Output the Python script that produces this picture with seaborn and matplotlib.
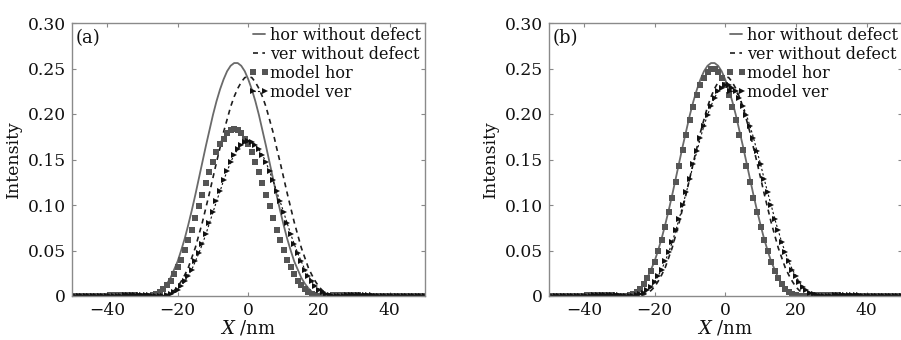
import matplotlib
matplotlib.use("Agg")
import matplotlib.pyplot as plt
import seaborn as sns

# ---------------- data ----------------
x_nm = list(range(-50, 51))

hor_without_defect = [
    0, 0, 0, 0, 0, 0, 0, 0, 0.0001, 0.0003,
    0.0005, 0.0008, 0.0011, 0.0013, 0.0014, 0.0014, 0.0013, 0.0011, 0.0008, 0.0005,
    0.0002, 0, 0.0001, 0.0007, 0.0023, 0.0046, 0.0085, 0.0136, 0.020, 0.029,
    0.038, 0.050, 0.063, 0.078, 0.094, 0.111, 0.129, 0.147, 0.165, 0.182,
    0.199, 0.214, 0.227, 0.238, 0.247, 0.253, 0.256, 0.256, 0.253, 0.247,
    0.238, 0.227, 0.214, 0.199, 0.182, 0.165, 0.147, 0.129, 0.111, 0.094,
    0.078, 0.063, 0.050, 0.038, 0.029, 0.020, 0.0136, 0.0085, 0.0046, 0.0023,
    0.0007, 0.0001, 0, 0.0002, 0.0005, 0.0008, 0.0011, 0.0013, 0.0014, 0.0014,
    0.0013, 0.0011, 0.0008, 0.0005, 0.0003, 0.0001, 0, 0, 0, 0,
    0, 0, 0, 0, 0, 0, 0, 0, 0, 0, 0,
]

ver_without_defect = [
    0, 0, 0, 0, 0, 0, 0, 0, 0, 0,
    0, 0, 0.0001, 0.0003, 0.0005, 0.0008, 0.0011, 0.0013, 0.0014, 0.0014,
    0.0013, 0.0011, 0.0008, 0.0005, 0.0002, 0, 0.0003, 0.0013, 0.0031, 0.006,
    0.010, 0.016, 0.023, 0.031, 0.042, 0.053, 0.067, 0.081, 0.097, 0.113,
    0.130, 0.147, 0.163, 0.180, 0.194, 0.208, 0.219, 0.228, 0.235, 0.240,
    0.241, 0.240, 0.235, 0.228, 0.219, 0.208, 0.194, 0.180, 0.163, 0.147,
    0.130, 0.113, 0.097, 0.081, 0.067, 0.053, 0.042, 0.031, 0.023, 0.016,
    0.010, 0.006, 0.0031, 0.0013, 0.0003, 0, 0.0002, 0.0005, 0.0008, 0.0011,
    0.0013, 0.0014, 0.0014, 0.0013, 0.0011, 0.0008, 0.0005, 0.0003, 0.0001, 0,
    0, 0, 0, 0, 0, 0, 0, 0, 0, 0, 0,
]

a_model_hor = [
    0, 0, 0, 0, 0, 0, 0, 0, 0, 0.0001,
    0.0003, 0.0006, 0.0008, 0.0010, 0.0011, 0.0011, 0.0010, 0.0008, 0.0006, 0.0003,
    0.0001, 0, 0.0002, 0.001, 0.0024, 0.0046, 0.0077, 0.012, 0.017, 0.024,
    0.032, 0.040, 0.051, 0.061, 0.073, 0.086, 0.099, 0.111, 0.124, 0.136,
    0.147, 0.158, 0.167, 0.173, 0.179, 0.182, 0.183, 0.182, 0.179, 0.173,
    0.167, 0.158, 0.147, 0.136, 0.124, 0.111, 0.099, 0.086, 0.073, 0.061,
    0.051, 0.040, 0.032, 0.024, 0.017, 0.012, 0.0077, 0.0046, 0.0024, 0.001,
    0.0002, 0, 0.0001, 0.0003, 0.0006, 0.0008, 0.0010, 0.0011, 0.0011, 0.0010,
    0.0008, 0.0006, 0.0003, 0.0001, 0, 0, 0, 0, 0, 0,
    0, 0, 0, 0, 0, 0, 0, 0, 0, 0, 0,
]

a_model_ver = [
    0, 0, 0, 0, 0, 0, 0, 0, 0, 0,
    0, 0, 0, 0.0001, 0.0003, 0.0006, 0.0008, 0.0010, 0.0011, 0.0011,
    0.0010, 0.0008, 0.0006, 0.0003, 0.0001, 0, 0.0002, 0.0009, 0.0022, 0.0043,
    0.0071, 0.011, 0.016, 0.022, 0.029, 0.038, 0.047, 0.057, 0.068, 0.080,
    0.092, 0.104, 0.115, 0.127, 0.137, 0.147, 0.155, 0.161, 0.166, 0.169,
    0.170, 0.169, 0.166, 0.161, 0.155, 0.147, 0.137, 0.127, 0.115, 0.104,
    0.092, 0.080, 0.068, 0.057, 0.047, 0.038, 0.029, 0.022, 0.016, 0.011,
    0.0071, 0.0043, 0.0022, 0.0009, 0.0002, 0, 0.0001, 0.0003, 0.0006, 0.0008,
    0.0010, 0.0011, 0.0011, 0.0010, 0.0008, 0.0006, 0.0003, 0.0001, 0, 0,
    0, 0, 0, 0, 0, 0, 0, 0, 0, 0, 0,
]

b_model_hor = [
    0, 0, 0, 0, 0, 0, 0, 0, 0.0001, 0.0003,
    0.0005, 0.0007, 0.0010, 0.0012, 0.0013, 0.0013, 0.0012, 0.0010, 0.0007, 0.0004,
    0.0002, 0, 0.0001, 0.0007, 0.0022, 0.0045, 0.0082, 0.013, 0.020, 0.028,
    0.037, 0.049, 0.062, 0.076, 0.092, 0.108, 0.125, 0.143, 0.160, 0.177,
    0.193, 0.208, 0.221, 0.232, 0.240, 0.246, 0.249, 0.249, 0.246, 0.240,
    0.232, 0.221, 0.208, 0.193, 0.177, 0.160, 0.143, 0.125, 0.108, 0.092,
    0.076, 0.062, 0.049, 0.037, 0.028, 0.020, 0.013, 0.0082, 0.0045, 0.0022,
    0.0007, 0.0001, 0, 0.0002, 0.0004, 0.0007, 0.0010, 0.0012, 0.0013, 0.0013,
    0.0012, 0.0010, 0.0007, 0.0005, 0.0003, 0.0001, 0, 0, 0, 0,
    0, 0, 0, 0, 0, 0, 0, 0, 0, 0, 0,
]

b_model_ver = [
    0, 0, 0, 0, 0, 0, 0, 0, 0, 0,
    0, 0.0001, 0.0003, 0.0006, 0.0008, 0.0010, 0.0011, 0.0011, 0.0010, 0.0008,
    0.0006, 0.0003, 0.0001, 0, 0.0001, 0.0006, 0.0017, 0.0036, 0.0063, 0.010,
    0.015, 0.022, 0.029, 0.038, 0.048, 0.059, 0.072, 0.085, 0.100, 0.114,
    0.129, 0.145, 0.159, 0.174, 0.187, 0.199, 0.209, 0.218, 0.225, 0.229,
    0.232, 0.232, 0.229, 0.225, 0.218, 0.209, 0.199, 0.187, 0.174, 0.159,
    0.145, 0.129, 0.114, 0.100, 0.085, 0.072, 0.059, 0.048, 0.038, 0.029,
    0.022, 0.015, 0.010, 0.0063, 0.0036, 0.0017, 0.0006, 0.0001, 0, 0.0001,
    0.0003, 0.0006, 0.0008, 0.0010, 0.0011, 0.0011, 0.0010, 0.0008, 0.0006, 0.0003,
    0.0001, 0, 0, 0, 0, 0, 0, 0, 0, 0, 0,
]

series_labels = ["hor without defect", "ver without defect", "model hor", "model ver"]
panel_labels = ["(a)", "(b)"]
x_ticks = [-40, -20, 0, 20, 40]
y_ticks = [0, 0.05, 0.10, 0.15, 0.20, 0.25, 0.30]
y_tick_labels = ["0", "0.05", "0.10", "0.15", "0.20", "0.25", "0.30"]
x_label = "$X$ /nm"
y_label = "Intensity"

for s in (hor_without_defect, ver_without_defect, a_model_hor, a_model_ver,
          b_model_hor, b_model_ver):
    assert len(s) == len(x_nm)

# ---------------- styling ----------------
sns.set_style("ticks")
plt.rcParams["font.family"] = ["DejaVu Serif"]
plt.rcParams["mathtext.fontset"] = "dejavuserif"
plt.rcParams["axes.unicode_minus"] = True

W, H = 901, 340
fig = plt.figure(figsize=(W / 100, H / 100), dpi=100)
ax_w = 353.4 / W
ax_h = 273 / H
ax_b0 = 44 / H
ax_a = fig.add_axes([71.6 / W, ax_b0, ax_w, ax_h])
ax_bb = fig.add_axes([548.5 / W, ax_b0, ax_w, ax_h])

panels = [
    (ax_a, a_model_hor, a_model_ver, panel_labels[0]),
    (ax_bb, b_model_hor, b_model_ver, panel_labels[1]),
]

for ax, m_hor, m_ver, plabel in panels:
    sns.lineplot(x=x_nm, y=hor_without_defect, ax=ax, color="#6a6a6a",
                 linewidth=1.3, label=series_labels[0])
    sns.lineplot(x=x_nm, y=ver_without_defect, ax=ax, color="#1e1e1e",
                 linewidth=1.2, linestyle=(0, (3.0, 2.6)), label=series_labels[1])
    sns.lineplot(x=x_nm, y=m_hor, ax=ax, color="#555555", linestyle="none",
                 marker="s", markersize=3.8, markeredgewidth=0,
                 label=series_labels[2])
    sns.lineplot(x=x_nm, y=m_ver, ax=ax, color="#111111", linewidth=0.8,
                 linestyle=(0, (2.0, 2.0)), marker=">", markersize=4.0,
                 markeredgewidth=0, label=series_labels[3])

    ax.set_xlim(-50, 50)
    ax.set_ylim(0, 0.30)
    ax.set_xticks(x_ticks)
    ax.set_yticks(y_ticks)
    ax.set_yticklabels(y_tick_labels)
    ax.tick_params(direction="in", length=3, width=0.8, colors="#888888",
                   labelcolor="#111111", top=True, right=True,
                   labelsize=12.3, pad=4)
    for sp in ax.spines.values():
        sp.set_visible(True)
        sp.set_color("#8a8a8a")
        sp.set_linewidth(1.0)

    ax.set_xlabel(x_label, fontsize=13, labelpad=0, color="#111111")
    ax.set_ylabel(y_label, fontsize=12.5, labelpad=4, color="#111111")

    ax.text(0.012, 0.978, plabel, transform=ax.transAxes, ha="left", va="top",
            fontsize=13, color="#111111")

    leg = ax.legend(loc="upper right", bbox_to_anchor=(1.0, 1.0), frameon=False,
                    numpoints=2, handlelength=1.35, handletextpad=0.0,
                    labelspacing=0.12, borderaxespad=0.0, borderpad=0.25,
                    markerscale=1.2, fontsize=11.5)
    for t in leg.get_texts():
        t.set_color("#111111")

fig.savefig("out.png", dpi=100)
